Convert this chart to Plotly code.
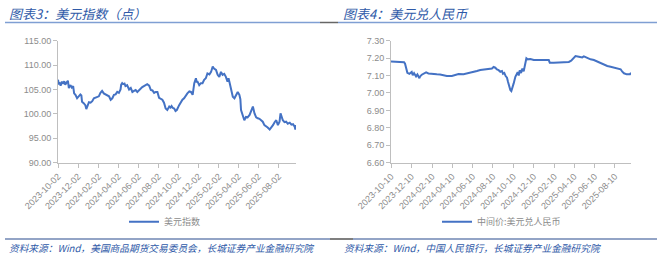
import plotly.graph_objects as go

# ---------------- data ----------------
dxy_dates = [
    "2023-10-02", "2023-10-04", "2023-10-07", "2023-10-10", "2023-10-14", "2023-10-18", "2023-10-21",
    "2023-10-24", "2023-10-29", "2023-11-01", "2023-11-04", "2023-11-09", "2023-11-13", "2023-11-17",
    "2023-11-20", "2023-11-24", "2023-11-29", "2023-12-04", "2023-12-09", "2023-12-12", "2023-12-14",
    "2023-12-19", "2023-12-24", "2023-12-27", "2023-12-31", "2024-01-04", "2024-01-09", "2024-01-14",
    "2024-01-19", "2024-01-24", "2024-01-29", "2024-02-03", "2024-02-08", "2024-02-13", "2024-02-18",
    "2024-02-23", "2024-02-28", "2024-03-05", "2024-03-10", "2024-03-15", "2024-03-20", "2024-03-25",
    "2024-03-30", "2024-04-04", "2024-04-09", "2024-04-11", "2024-04-14", "2024-04-17", "2024-04-21",
    "2024-04-24", "2024-04-29", "2024-05-02", "2024-05-05", "2024-05-10", "2024-05-15", "2024-05-20",
    "2024-05-25", "2024-05-30", "2024-06-04", "2024-06-09", "2024-06-14", "2024-06-19", "2024-06-24",
    "2024-06-29", "2024-07-05", "2024-07-10", "2024-07-15", "2024-07-20", "2024-07-25", "2024-07-30",
    "2024-08-04", "2024-08-09", "2024-08-14", "2024-08-19", "2024-08-24", "2024-08-29", "2024-09-04",
    "2024-09-08", "2024-09-11", "2024-09-15", "2024-09-19", "2024-09-23", "2024-09-27", "2024-10-04",
    "2024-10-09", "2024-10-14", "2024-10-19", "2024-10-24", "2024-10-29", "2024-11-04", "2024-11-09",
    "2024-11-14", "2024-11-17", "2024-11-19", "2024-11-24", "2024-11-26", "2024-11-29", "2024-12-04",
    "2024-12-09", "2024-12-14", "2024-12-19", "2024-12-24", "2024-12-29", "2025-01-04", "2025-01-09",
    "2025-01-14", "2025-01-18", "2025-01-24", "2025-01-29", "2025-02-03", "2025-02-08", "2025-02-13",
    "2025-02-18", "2025-02-23", "2025-02-28", "2025-03-03", "2025-03-06", "2025-03-11", "2025-03-16",
    "2025-03-21", "2025-03-26", "2025-03-31", "2025-04-05", "2025-04-08", "2025-04-10", "2025-04-15",
    "2025-04-20", "2025-04-25", "2025-04-30", "2025-05-06", "2025-05-11", "2025-05-16", "2025-05-21",
    "2025-05-26", "2025-05-31", "2025-06-05", "2025-06-10", "2025-06-15", "2025-06-20", "2025-06-25",
    "2025-06-30", "2025-07-06", "2025-07-11", "2025-07-16", "2025-07-21", "2025-07-26", "2025-07-31",
    "2025-08-05", "2025-08-08", "2025-08-12", "2025-08-15", "2025-08-20", "2025-08-25", "2025-08-30",
    "2025-09-05", "2025-09-10", "2025-09-15", "2025-09-20", "2025-09-22", "2025-09-24",
]
dxy_values = [
    107.0, 106.2, 106.3, 105.8, 106.6, 106.2, 106.7,
    106.0, 106.5, 106.8, 105.3, 105.9, 105.4, 105.7,
    104.2, 103.9, 103.2, 103.6, 104.0, 103.8, 102.5,
    102.2, 101.8, 101.0, 101.8, 102.4, 102.3, 102.6,
    103.2, 103.3, 103.5, 103.6, 104.3, 104.7, 104.2,
    104.0, 103.9, 103.6, 102.9, 103.2, 103.9, 104.0,
    104.5, 104.3, 105.0, 106.0, 106.3, 106.1, 106.2,
    105.7, 105.9, 105.4, 105.0, 105.3, 104.5, 104.7,
    104.9, 104.5, 104.9, 105.2, 105.5, 105.7, 105.9,
    106.1, 105.8, 104.9, 104.8, 104.3, 104.5, 104.5,
    103.3, 103.1, 102.9, 102.3, 101.1, 100.8, 101.5,
    101.3, 101.6, 101.2, 101.1, 100.6, 100.8, 101.8,
    102.5, 102.9, 103.2, 103.8, 104.2, 104.6, 104.5,
    103.9, 105.5, 106.3, 107.3, 106.6, 106.6, 105.9,
    106.3, 106.3, 107.0, 107.3, 108.3, 108.1, 108.6,
    109.7, 109.3, 109.0, 108.0, 107.6, 108.6, 108.0,
    108.2, 107.6, 106.6, 107.3, 106.5, 104.9, 103.5,
    103.2, 103.9, 104.5, 103.9, 103.0, 100.8, 99.8,
    98.7, 99.4, 99.3, 99.8, 100.5, 101.5, 100.1,
    99.3, 99.1, 99.0, 98.7, 98.4, 97.7, 97.5,
    97.2, 96.8, 97.2, 97.7, 98.3, 98.7, 97.7,
    98.4, 100.1, 99.0, 98.7, 98.3, 98.4, 98.0,
    98.2, 97.8, 97.9, 97.4, 96.8, 97.7,
]

cny_dates = [
    "2023-10-10", "2023-10-27", "2023-11-11", "2023-11-18", "2023-11-21", "2023-11-24", "2023-11-28",
    "2023-12-04", "2023-12-08", "2023-12-11", "2023-12-14", "2023-12-18", "2023-12-24", "2023-12-28",
    "2024-01-03", "2024-01-05", "2024-01-10", "2024-01-15", "2024-01-23", "2024-01-30", "2024-02-09",
    "2024-02-24", "2024-03-05", "2024-03-15", "2024-03-25", "2024-04-09", "2024-04-19", "2024-04-29",
    "2024-05-14", "2024-05-29", "2024-06-08", "2024-06-23", "2024-07-03", "2024-07-18", "2024-07-28",
    "2024-08-07", "2024-08-12", "2024-08-17", "2024-08-22", "2024-08-27", "2024-09-01", "2024-09-06",
    "2024-09-09", "2024-09-13", "2024-09-17", "2024-09-21", "2024-09-24", "2024-09-27", "2024-10-01",
    "2024-10-04", "2024-10-07", "2024-10-11", "2024-10-16", "2024-10-19", "2024-10-23", "2024-10-26",
    "2024-10-29", "2024-11-02", "2024-11-06", "2024-11-10", "2024-11-14", "2024-11-18", "2024-11-22",
    "2024-11-30", "2024-12-10", "2024-12-20", "2025-01-09", "2025-01-24", "2025-01-27", "2025-02-08",
    "2025-02-28", "2025-03-15", "2025-03-25", "2025-04-01", "2025-04-07", "2025-04-14", "2025-04-24",
    "2025-05-04", "2025-05-09", "2025-05-14", "2025-05-19", "2025-05-29", "2025-06-08", "2025-06-18",
    "2025-06-28", "2025-07-08", "2025-07-18", "2025-07-28", "2025-08-07", "2025-08-17", "2025-08-27",
    "2025-09-01", "2025-09-06", "2025-09-14", "2025-09-21", "2025-09-24", "2025-09-27",
]
cny_values = [
    7.180, 7.179, 7.178, 7.177, 7.168, 7.140, 7.116,
    7.110, 7.118, 7.121, 7.102, 7.114, 7.095, 7.106,
    7.085, 7.095, 7.105, 7.110, 7.118, 7.112, 7.109,
    7.107, 7.106, 7.100, 7.097, 7.098, 7.102, 7.109,
    7.107, 7.113, 7.118, 7.126, 7.132, 7.134, 7.136,
    7.140, 7.149, 7.145, 7.135, 7.131, 7.122, 7.126,
    7.110, 7.115, 7.097, 7.088, 7.065, 7.036, 7.017,
    7.011, 7.027, 7.055, 7.093, 7.110, 7.120, 7.100,
    7.130, 7.115, 7.140, 7.125, 7.170, 7.199, 7.193,
    7.195, 7.189, 7.190, 7.189, 7.189, 7.174, 7.173,
    7.176, 7.177, 7.178, 7.185, 7.199, 7.212, 7.208,
    7.204, 7.210, 7.205, 7.199, 7.193, 7.189, 7.180,
    7.170, 7.160, 7.155, 7.151, 7.145, 7.141, 7.136,
    7.122, 7.113, 7.107, 7.106, 7.108, 7.116,
]

dxy_ticks = ["2023-10-02", "2023-12-02", "2024-02-02", "2024-04-02", "2024-06-02", "2024-08-02",
             "2024-10-02", "2024-12-02", "2025-02-02", "2025-04-02", "2025-06-02", "2025-08-02"]
cny_ticks = ["2023-10-10", "2023-12-10", "2024-02-10", "2024-04-10", "2024-06-10", "2024-08-10",
             "2024-10-10", "2024-12-10", "2025-02-10", "2025-04-10", "2025-06-10", "2025-08-10"]

dxy_name = "美元指数"
cny_name = "中间价:美元兑人民币"
title_left = "图表3：美元指数（点）"
title_right = "图表4：美元兑人民币"
source_left = "资料来源：Wind，美国商品期货交易委员会，长城证券产业金融研究院"
source_right = "资料来源：Wind，中国人民银行，长城证券产业金融研究院"

# ---------------- figure ----------------
W, H = 660, 260
def fx(px):
    return px / W
def fy(py):
    return 1 - py / H

LINE = "#4472C4"
AXIS = "#BFBFBF"
TICKC = "#8C8C8C"
BLUE_T = "#2F5AA8"
FONT = "Liberation Sans, Arial, Noto Sans CJK SC, sans-serif"
CJK = "Noto Sans CJK SC, sans-serif"

fig = go.Figure()
fig.add_trace(go.Scatter(x=dxy_dates, y=dxy_values, mode="lines", name=dxy_name, showlegend=True,
                         line=dict(color=LINE, width=2), xaxis="x", yaxis="y", legend="legend"))
fig.add_trace(go.Scatter(x=cny_dates, y=cny_values, mode="lines", name=cny_name, showlegend=True,
                         line=dict(color=LINE, width=2), xaxis="x2", yaxis="y2", legend="legend2"))

xcommon = dict(type="date", tickangle=-45, ticks="outside", ticklen=4, tickcolor=AXIS,
               showline=True, linecolor=AXIS, linewidth=1, showgrid=False, zeroline=False,
               automargin=False, tickfont=dict(size=9, color=TICKC, family=FONT))
ycommon = dict(ticks="outside", ticklen=4, tickcolor=AXIS, showline=True, linecolor=AXIS,
               linewidth=1, showgrid=False, zeroline=False, tickformat=".2f", automargin=False,
               tickfont=dict(size=9, color=TICKC, family=FONT))

fig.update_layout(
    width=W, height=H, margin=dict(l=0, r=0, t=0, b=0, autoexpand=False),
    paper_bgcolor="white", plot_bgcolor="white", showlegend=True,
    font=dict(family=FONT),
    xaxis=dict(domain=[fx(58), fx(296)], anchor="y", range=["2023-10-02", "2025-09-24"],
               tickvals=dxy_ticks, ticktext=dxy_ticks, **xcommon),
    yaxis=dict(domain=[fy(162.7), fy(40.7)], anchor="x", range=[90, 115], dtick=5, tick0=90, **ycommon),
    xaxis2=dict(domain=[fx(391), fx(631)], anchor="y2", range=["2023-10-10", "2025-09-27"],
                tickvals=cny_ticks, ticktext=cny_ticks, **xcommon),
    yaxis2=dict(domain=[fy(162.7), fy(40.7)], anchor="x2", range=[6.6, 7.3], dtick=0.1, tick0=6.6, **ycommon),
    legend=dict(x=fx(124), y=fy(221.7), xanchor="left", yanchor="middle", bgcolor="rgba(0,0,0,0)",
                font=dict(size=9, color=TICKC, family=CJK), itemwidth=30),
    legend2=dict(x=fx(437), y=fy(221.7), xanchor="left", yanchor="middle", bgcolor="rgba(0,0,0,0)",
                 font=dict(size=9, color=TICKC, family=CJK), itemwidth=30),
)

def label(text, x, y, size):
    return dict(text="<i>" + text + "</i>", x=fx(x), y=fy(y), xref="paper", yref="paper",
                xanchor="left", yanchor="middle", align="left", showarrow=False,
                font=dict(size=size, color=BLUE_T, family=CJK))

fig.update_layout(annotations=[
    label(title_left, 7, 13, 13),
    label(title_right, 341, 13, 13),
    label(source_left, 7, 248, 9.7),
    label(source_right, 342, 248, 9.7),
])

shapes = []
def hline(x0, x1, y, color, w=1.5):
    shapes.append(dict(type="line", xref="paper", yref="paper", x0=fx(x0), x1=fx(x1),
                       y0=fy(y), y1=fy(y), line=dict(color=color, width=w)))
hline(5, 320, 22.5, "#7F9FD3")
hline(320, 338, 22.5, "#666666")
hline(338, 657, 22.5, "#7F9FD3")
hline(5, 330, 239, "#6F86B3")
hline(330, 353, 239, "#555555")
hline(353, 657, 239, "#6F86B3")
fig.update_layout(shapes=shapes)

fig.write_html("out.html")
